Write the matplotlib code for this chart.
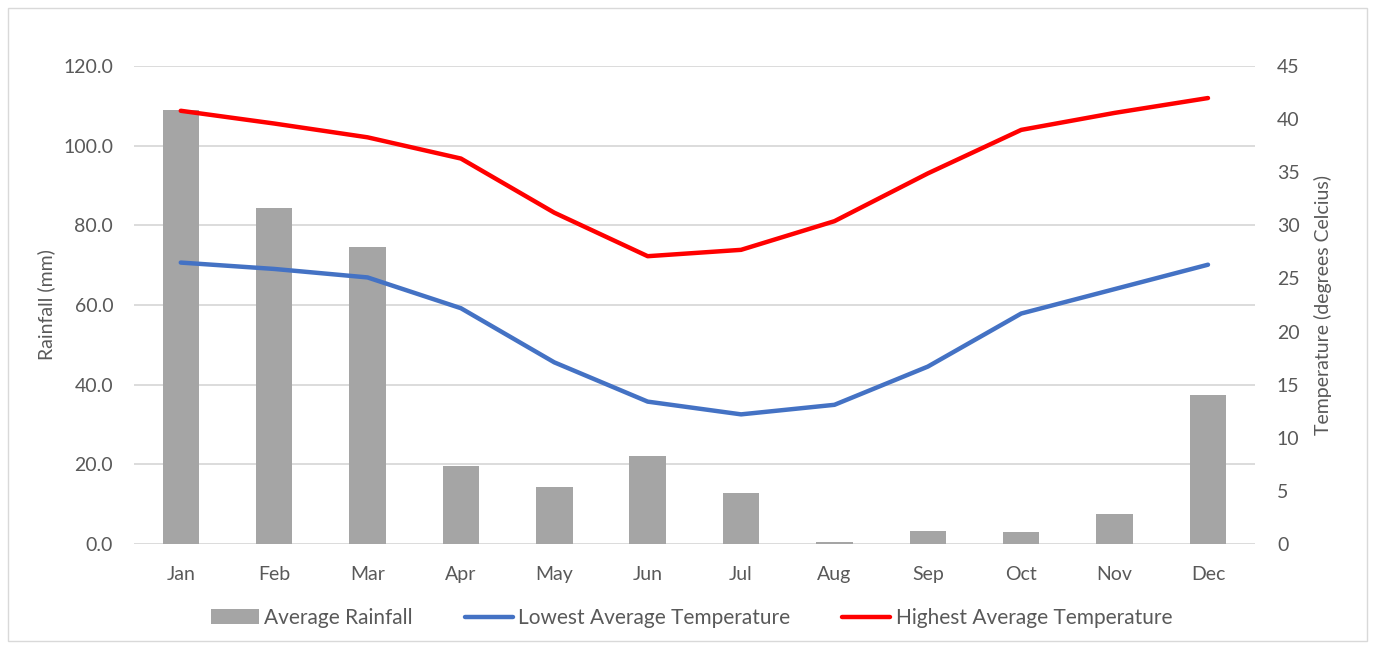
import numpy as np
import matplotlib
matplotlib.use("Agg")
import matplotlib.pyplot as plt
from matplotlib.patches import Rectangle

months = ["Jan", "Feb", "Mar", "Apr", "May", "Jun", "Jul", "Aug", "Sep", "Oct", "Nov", "Dec"]
rainfall = [108.9, 84.4, 74.6, 19.6, 14.3, 22.0, 12.9, 0.5, 3.3, 2.9, 7.5, 37.3]
low_temp = [26.5, 25.9, 25.1, 22.2, 17.1, 13.4, 12.2, 13.1, 16.7, 21.7, 24.0, 26.3]
high_temp = [40.8, 39.6, 38.3, 36.3, 31.2, 27.1, 27.7, 30.4, 34.9, 39.0, 40.6, 42.0]

left_ticks = [0, 20, 40, 60, 80, 100, 120]
right_ticks = [0, 5, 10, 15, 20, 25, 30, 35, 40, 45]

txt = "#595959"
grid = "#D9D9D9"
plt.rcParams["font.family"] = ["Lato", "DejaVu Sans"]

fig = plt.figure(figsize=(13.75, 6.49), dpi=100)
ax = fig.add_axes([0.0975, 0.162, 0.815, 0.736])
x = np.arange(len(months))

bars = ax.bar(x, rainfall, width=0.39, color="#A5A5A5", zorder=2, label="Average Rainfall")
ax.set_ylim(0, 120)
ax.set_xlim(-0.5, 11.5)
ax.set_yticks(left_ticks)
ax.set_yticklabels([f"{v:.1f}" for v in left_ticks])
ax.set_xticks(x)
ax.set_xticklabels(months)
ax.grid(axis="y", color=grid, linewidth=1.3, zorder=0)
ax.set_axisbelow(True)
ax.set_ylabel("Rainfall (mm)", fontsize=14, color=txt, labelpad=6)
for s in ax.spines.values():
    s.set_visible(False)
ax.tick_params(length=0, labelsize=14, labelcolor=txt)
ax.tick_params(axis="x", pad=16)
ax.tick_params(axis="y", pad=15)

ax2 = ax.twinx()
l1, = ax2.plot(x, low_temp, color="#4472C4", linewidth=3.2, solid_capstyle="round",
               label="Lowest Average Temperature", zorder=3)
l2, = ax2.plot(x, high_temp, color="#FF0000", linewidth=3.2, solid_capstyle="round",
               label="Highest Average Temperature", zorder=3)
ax2.set_ylim(0, 45)
ax2.set_yticks(right_ticks)
for s in ax2.spines.values():
    s.set_visible(False)
ax2.tick_params(length=0, labelsize=14, labelcolor=txt, pad=16)
ax2.set_ylabel("Temperature (degrees Celcius)", fontsize=14, color=txt, labelpad=10)

leg = fig.legend(handles=[bars, l1, l2], loc="center", bbox_to_anchor=(0.503, 0.048),
                 ncol=3, frameon=False, fontsize=15, handlelength=2.3,
                 columnspacing=2.5, handletextpad=0.25)
for t in leg.get_texts():
    t.set_color(txt)

fig.patches.append(Rectangle((0.006, 0.012), 0.988, 0.975, transform=fig.transFigure,
                             fill=False, edgecolor=grid, linewidth=1))

fig.savefig("out.png", dpi=100)
